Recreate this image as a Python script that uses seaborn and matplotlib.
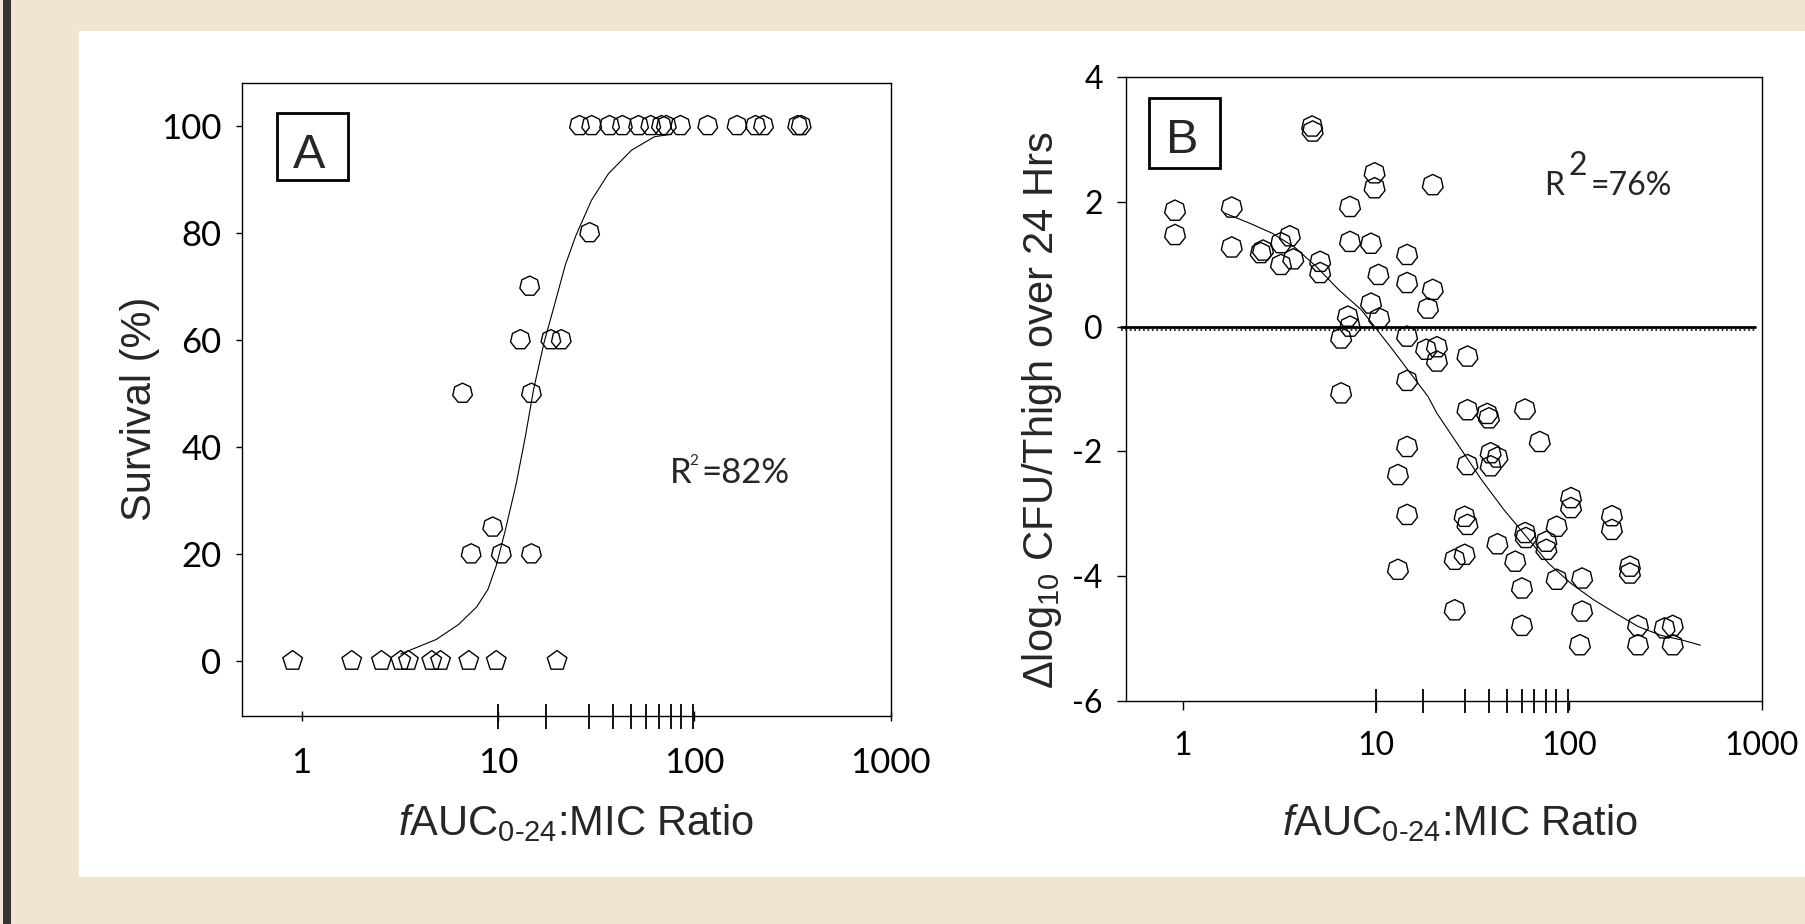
import matplotlib
matplotlib.use('Agg')
import matplotlib.pyplot as plt
from matplotlib.patches import Rectangle
from matplotlib.ticker import NullFormatter
import pandas as pd
import seaborn as sns

# ---- data ----
# panel A: survival (%) against fAUC0-24:MIC ratio
a_ratio = [0.9, 1.8, 2.55, 3.2, 3.5, 4.6, 5.1, 7.1, 9.8, 20.0,
           7.3, 10.4, 14.8, 9.4, 6.6, 14.8, 13.0, 18.6, 21.0, 14.5, 29.3,
           26, 30, 37, 43, 52, 60, 68, 72, 85, 117, 165, 205, 225, 336, 350]
a_surv = [0, 0, 0, 0, 0, 0, 0, 0, 0, 0,
          20, 20, 20, 25, 50, 50, 60, 60, 60, 70, 80,
          100, 100, 100, 100, 100, 100, 100, 100, 100, 100, 100, 100, 100, 100, 100]
a_fit_x = [3.2, 4.85, 6.3, 7.8, 8.9, 9.8, 10.9, 12.4, 13.8, 15.2, 17.2, 19.3,
           22.0, 24.9, 29.9, 36.5, 47.9, 62.6, 76.6]
a_fit_y = [1.3, 4.0, 6.8, 10.1, 13.4, 17.8, 24.4, 33.2, 42.0, 50.8, 59.6, 66.2,
           73.9, 79.4, 86.0, 91.0, 95.4, 97.9, 98.4]

# panel B: change in log10 CFU/thigh against fAUC0-24:MIC ratio
b_ratio = [0.91, 0.91, 1.79, 1.79, 2.6, 2.53, 3.22, 3.58, 3.22, 3.73,
           4.67, 4.7, 5.14, 5.14, 7.34, 7.34, 7.15, 7.34, 6.6, 6.6,
           9.84, 9.84, 9.43, 9.43, 10.4, 10.3, 14.5, 14.5, 14.5, 14.5,
           19.7, 19.7, 18.6, 18.2, 20.7, 20.7, 29.8, 29.8, 37.7, 38.5,
           59.2, 70.6, 14.5, 13.0, 29.8, 39.3, 42.6, 39.3, 14.5, 28.8,
           29.8, 102.5, 102.5, 167, 167, 59.3, 59.8, 86.4, 76.4, 76.4,
           42.6, 52.7, 25.6, 28.8, 13.0, 86.4, 117, 57.1, 207, 207,
           25.6, 117, 57.1, 228, 345, 114, 228, 345, 313]
b_change = [1.86, 1.47, 1.91, 1.27, 1.22, 1.18, 1.34, 1.45, 0.99, 1.08,
            3.21, 3.13, 1.04, 0.86, 1.92, 1.36, 0.16, 0.0, -0.19, -1.07,
            2.46, 2.22, 1.33, 0.37, 0.13, 0.83, 1.15, 0.70, -0.16, -0.87,
            2.27, 0.59, 0.29, -0.37, -0.33, -0.56, -0.48, -1.34, -1.40, -1.47,
            -1.33, -1.85, -1.93, -2.38, -2.22, -2.03, -2.10, -2.24, -3.02, -3.05,
            -3.18, -2.75, -2.91, -3.04, -3.26, -3.31, -3.39, -3.21, -3.58, -3.45,
            -3.49, -3.77, -3.74, -3.66, -3.90, -4.06, -4.04, -4.20, -3.85, -3.96,
            -4.55, -4.57, -4.80, -4.80, -4.80, -5.11, -5.11, -5.11, -4.84]
b_fit_x = [1.65, 2.21, 2.89, 3.77, 4.92, 6.42, 8.39, 9.84, 12.2, 15.1, 18.6,
           20.7, 27.1, 35.3, 46.1, 60.2, 78.5, 102.5, 134, 175, 228, 298, 388, 480]
b_fit_y = [1.82, 1.66, 1.50, 1.28, 0.96, 0.59, 0.27, 0.0, -0.37, -0.75, -1.12,
           -1.39, -1.93, -2.46, -2.94, -3.37, -3.80, -4.12, -4.38, -4.60, -4.81,
           -4.95, -5.03, -5.11]

# long marks along the x axis (dose ratios 10..100)
rug_ticks = [10, 17.6, 29, 38.5, 47.5, 57, 66, 76, 86, 99]
x_major = [1, 10, 100, 1000]
x_major_labels = ['1', '10', '100', '1000']
a_yticks = [0, 20, 40, 60, 80, 100]
b_yticks = [-6, -4, -2, 0, 2, 4]

BEIGE = '#f0e4d2'
HEPTAGON = (7, 0, 0)
LABEL_SIZE = 30

sns.set_style('ticks')
plt.rcParams['font.family'] = ['Liberation Sans', 'DejaVu Sans']
plt.rcParams['axes.unicode_minus'] = False
plt.rcParams['mathtext.fontset'] = 'custom'
plt.rcParams['mathtext.rm'] = 'Liberation Sans'
plt.rcParams['mathtext.it'] = 'Liberation Sans:italic'

fig = plt.figure(figsize=(18.06, 9.24), dpi=100, facecolor=BEIGE)
fig.patches.append(Rectangle((0.04374, 0.0509), 0.9563, 0.9156, transform=fig.transFigure,
                             fc='white', ec='none', zorder=-2))
fig.patches.append(Rectangle((0.00166, 0), 0.00443, 1, transform=fig.transFigure,
                             fc='#333333', ec='none', zorder=-2))

axA = fig.add_axes([0.1338, 0.2251, 0.3594, 0.6854])
axB = fig.add_axes([0.6233, 0.2417, 0.3523, 0.6747])

xlabel = r'$f$AUC$_{0\text{-}24}$:MIC Ratio'

# ---------- panel A ----------
dfA = pd.DataFrame({'ratio': a_ratio, 'survival': a_surv})
dead = dfA[dfA.survival == 0]
alive = dfA[dfA.survival > 0]
axA.set_xscale('log')
sns.lineplot(x=a_fit_x, y=a_fit_y, color='black', linewidth=0.8, estimator=None,
             sort=False, ax=axA, zorder=2)
sns.scatterplot(data=alive, x='ratio', y='survival', marker=HEPTAGON, s=210,
                facecolor='none', edgecolor='black', linewidth=1.0, ax=axA, zorder=3)
axA.collections[-1].set_facecolor('none')
sns.scatterplot(data=dead, x='ratio', y='survival', marker='p', s=220,
                facecolor='none', edgecolor='black', linewidth=1.0, ax=axA, zorder=3)
axA.collections[-1].set_facecolor('none')

axA.set_xlim(0.495, 1000)
axA.set_ylim(-10.3, 108)
axA.set_yticks(a_yticks)
axA.set_xticks(x_major)
axA.set_xticklabels(x_major_labels)
axA.set_xticks(rug_ticks, minor=True)
axA.xaxis.set_minor_formatter(NullFormatter())
axA.xaxis.remove_overlapping_locs = False
axA.tick_params(axis='x', which='major', direction='inout', length=7, width=1, pad=19)
axA.tick_params(axis='x', which='minor', direction='inout', length=18, width=1.3)
axA.tick_params(axis='y', direction='out', length=4.5, width=1, pad=10)
axA.tick_params(which='both', labelsize=25, labelfontfamily='Lato', colors='black')
axA.set_xlabel(xlabel, fontsize=LABEL_SIZE, va='baseline')
axA.xaxis.set_label_coords(0.515, -0.1875)
axA.set_ylabel('Survival (%)', fontsize=LABEL_SIZE, va='center')
axA.yaxis.set_label_coords(-0.157, 0.485)

axA.add_patch(Rectangle((0.0544, 0.8464), 0.1094, 0.1062, transform=axA.transAxes,
                        fc='white', ec='black', lw=2.0, zorder=4))
axA.text(0.1037, 0.8653, 'A', transform=axA.transAxes, ha='center', va='baseline',
         fontsize=35, family=['Liberation Sans Narrow', 'Liberation Sans'], zorder=5)
axA.text(0.6600, 0.3674, 'R', transform=axA.transAxes, ha='left', va='baseline',
         fontsize=25, family='Lato')
axA.text(0.6890, 0.3963, '2', transform=axA.transAxes, ha='left', va='baseline',
         fontsize=11, family='Lato')
axA.text(0.7080, 0.3674, '=82%', transform=axA.transAxes, ha='left', va='baseline',
         fontsize=25, family='Lato')

# ---------- panel B ----------
dfB = pd.DataFrame({'ratio': b_ratio, 'change': b_change})
axB.set_xscale('log')
axB.axhline(0, xmin=-0.007, xmax=0.989, color='black', lw=2.0, clip_on=False, zorder=2)
axB.axhline(-0.05, xmin=-0.007, xmax=0.989, color='black', lw=1.2, ls=':', clip_on=False, zorder=2)
sns.lineplot(x=b_fit_x, y=b_fit_y, color='black', linewidth=0.8, estimator=None,
             sort=False, ax=axB, zorder=2)
sns.scatterplot(data=dfB, x='ratio', y='change', marker=HEPTAGON, s=235,
                facecolor='none', edgecolor='black', linewidth=1.0, ax=axB, zorder=3)
axB.collections[-1].set_facecolor('none')

axB.set_xlim(0.505, 1000)
axB.set_ylim(-6, 4)
axB.set_yticks(b_yticks)
axB.set_xticks(x_major)
axB.set_xticklabels(x_major_labels)
axB.set_xticks(rug_ticks, minor=True)
axB.xaxis.set_minor_formatter(NullFormatter())
axB.xaxis.remove_overlapping_locs = False
axB.tick_params(axis='x', which='major', direction='out', length=6.5, width=1, pad=15.5)
axB.tick_params(axis='x', which='minor', direction='inout', length=17, width=1.3)
axB.tick_params(axis='y', direction='out', length=6.5, width=1, pad=10)
axB.tick_params(which='both', labelsize=23, labelfontfamily='Lato', colors='black')
axB.set_xlabel(xlabel, fontsize=LABEL_SIZE, va='baseline')
axB.xaxis.set_label_coords(0.525, -0.2156)
axB.set_ylabel('Δlog$_{10}$ CFU/Thigh over 24 Hrs', fontsize=LABEL_SIZE, va='center')
axB.yaxis.set_label_coords(-0.1315, 0.465)

axB.add_patch(Rectangle((0.0366, 0.8545), 0.1111, 0.1123, transform=axB.transAxes,
                        fc='white', ec='black', lw=2.0, zorder=4))
axB.text(0.089, 0.8786, 'B', transform=axB.transAxes, ha='center', va='baseline',
         fontsize=35, family=['Liberation Sans Narrow', 'Liberation Sans'], zorder=5)
axB.text(0.6575, 0.8112, 'R', transform=axB.transAxes, ha='left', va='baseline',
         fontsize=23, family='Lato')
axB.text(0.6964, 0.8433, '2', transform=axB.transAxes, ha='left', va='baseline',
         fontsize=23, family='Lato')
axB.text(0.7300, 0.8112, '=76%', transform=axB.transAxes, ha='left', va='baseline',
         fontsize=23, family='Lato')

for ax in (axA, axB):
    for sp in ax.spines.values():
        sp.set_color('black')
        sp.set_linewidth(1.0)
    ax.set_facecolor('white')

fig.savefig('out.png', dpi=100, facecolor=fig.get_facecolor())
